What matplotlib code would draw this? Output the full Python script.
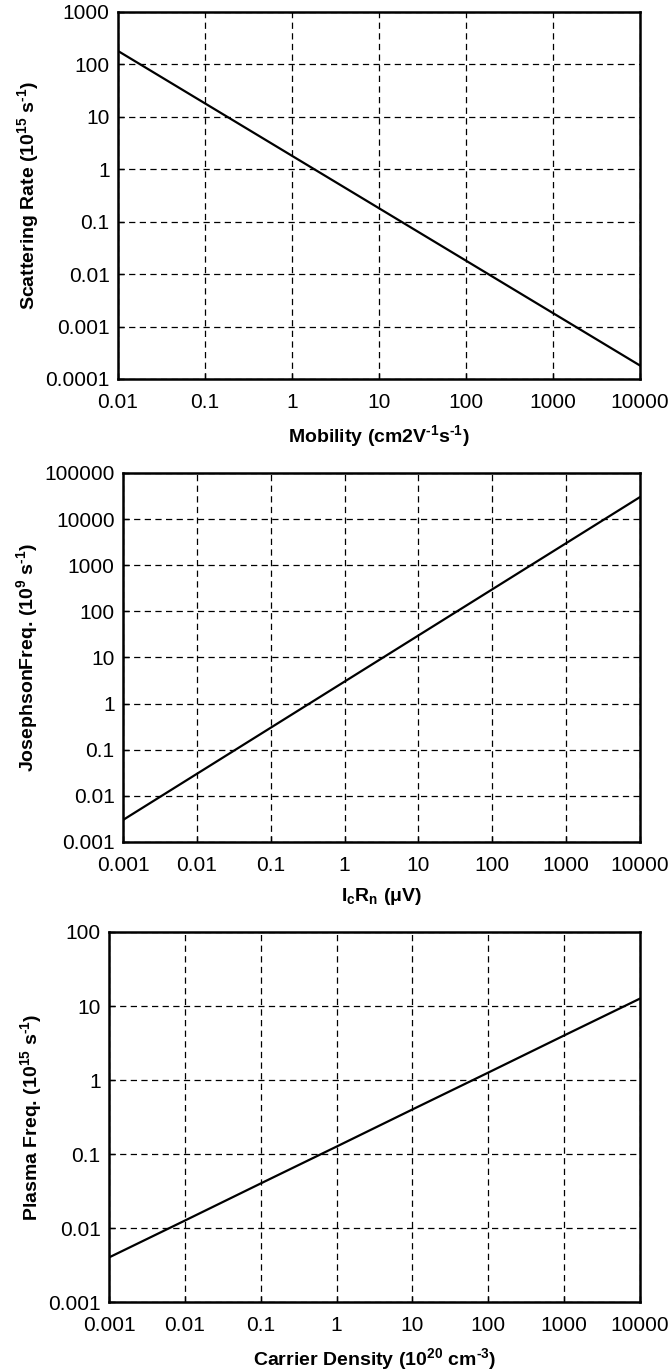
import matplotlib.pyplot as plt
from matplotlib.ticker import FixedLocator, FuncFormatter, NullLocator

plt.rcParams['font.family'] = ['Liberation Sans', 'DejaVu Sans']
plt.rcParams['mathtext.fontset'] = 'custom'
plt.rcParams['mathtext.rm'] = 'Liberation Sans:bold'
plt.rcParams['mathtext.it'] = 'Liberation Sans:bold'
plt.rcParams['mathtext.bf'] = 'Liberation Sans:bold'

# panel 1: scattering rate vs mobility
mobility = [0.01, 0.1, 1, 10, 100, 1000, 10000]
scatter_rate = [180, 18, 1.8, 0.18, 0.018, 0.0018, 0.00018]

# panel 2: Josephson frequency vs IcRn
icrn = [0.001, 0.01, 0.1, 1, 10, 100, 1000, 10000]
jos_freq = [0.003, 0.03, 0.3, 3, 30, 300, 3000, 30000]

# panel 3: plasma frequency vs carrier density
density = [0.001, 0.01, 0.1, 1, 10, 100, 1000, 10000]
plasma_freq = [0.004, 0.0126, 0.04, 0.126, 0.4, 1.26, 4.0, 12.6]

fmt = FuncFormatter(lambda v, p: f"{v:g}")

fig = plt.figure(figsize=(6.71, 13.72), dpi=100)

panels = [
    ([0.1759, 0.7238, 0.778, 0.2675], mobility, scatter_rate, (0.01, 10000), (1e-4, 1000),
     r'Mobility (cm2V$^{\text{-1}}$s$^{\text{-1}}$)', r'Scattering Rate (10$^{\text{15}}$ s$^{\text{-1}}$)'),
    ([0.1833, 0.3863, 0.7705, 0.2690], icrn, jos_freq, (0.001, 10000), (0.001, 100000),
     r'I$_{\text{c}}$R$_{\text{n}}$ (μV)', r'JosephsonFreq. (10$^{\text{9}}$ s$^{\text{-1}}$)'),
    ([0.1624, 0.0510, 0.7914, 0.2697], density, plasma_freq, (0.001, 10000), (0.001, 100),
     r'Carrier Density (10$^{\text{20}}$ cm$^{\text{-3}}$)', r'Plasma Freq. (10$^{\text{15}}$ s$^{\text{-1}}$)'),
]

for rect, x, y, xlim, ylim, xl, yl in panels:
    ax = fig.add_axes(rect)
    ax.plot(x, y, color='black', lw=1.6)
    ax.set_xscale('log')
    ax.set_yscale('log')
    ax.set_xlim(*xlim)
    ax.set_ylim(*ylim)
    xt = [10.0**k for k in range(-4, 6) if xlim[0] * 0.9999 <= 10.0**k <= xlim[1] * 1.0001]
    yt = [10.0**k for k in range(-5, 6) if ylim[0] * 0.9999 <= 10.0**k <= ylim[1] * 1.0001]
    ax.xaxis.set_major_locator(FixedLocator(xt))
    ax.yaxis.set_major_locator(FixedLocator(yt))
    ax.xaxis.set_minor_locator(NullLocator())
    ax.yaxis.set_minor_locator(NullLocator())
    ax.xaxis.set_major_formatter(fmt)
    ax.yaxis.set_major_formatter(fmt)
    ax.tick_params(direction='in', length=4, width=1, labelsize=15)
    ax.tick_params(axis='x', pad=10)
    ax.tick_params(axis='y', pad=6)
    ax.grid(True, color='black', linestyle=(0, (5, 3.5)), lw=0.9)
    for s in ax.spines.values():
        s.set_linewidth(1.8)
    ax.set_xlabel(xl, fontsize=14, fontweight='bold', labelpad=8)
    ax.set_ylabel(yl, fontsize=14, fontweight='bold', labelpad=3)

plt.savefig('out.png', dpi=100)
